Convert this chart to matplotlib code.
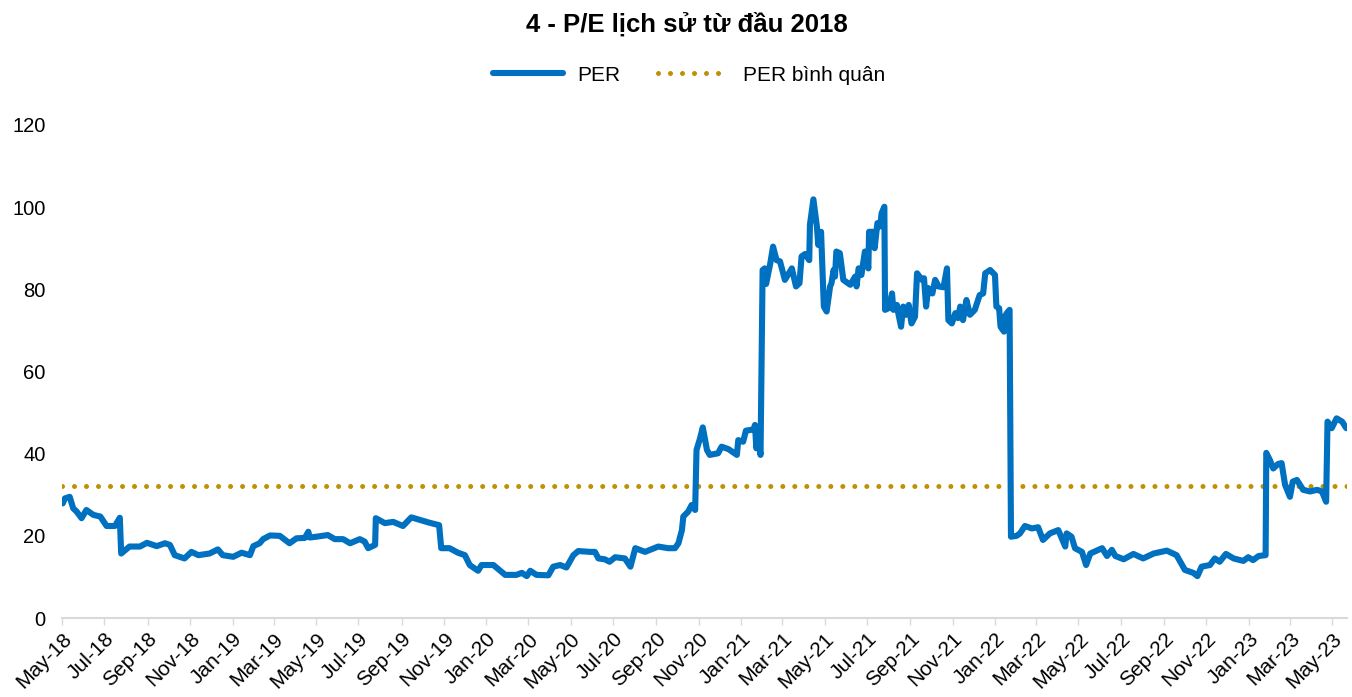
import matplotlib
matplotlib.use("Agg")
import matplotlib.pyplot as plt
import matplotlib.dates as mdates
import pandas as pd

plt.rcParams['font.family'] = ['Liberation Sans', 'DejaVu Sans']

# Dữ liệu P/E đọc từ biểu đồ
per_dates = [
    "2018-05-02", "2018-05-05", "2018-05-12", "2018-05-17", "2018-05-22", "2018-05-29",
    "2018-06-05", "2018-06-15", "2018-06-25", "2018-07-04", "2018-07-16", "2018-07-23",
    "2018-07-25", "2018-08-06", "2018-08-21", "2018-08-31", "2018-09-14", "2018-09-26",
    "2018-10-03", "2018-10-10", "2018-10-24", "2018-11-03", "2018-11-13", "2018-11-29",
    "2018-12-11", "2018-12-18", "2019-01-02", "2019-01-14", "2019-01-26", "2019-01-31",
    "2019-02-09", "2019-02-14", "2019-02-24", "2019-03-10", "2019-03-24", "2019-04-03",
    "2019-04-15", "2019-04-20", "2019-04-22", "2019-05-02", "2019-05-18", "2019-05-28",
    "2019-06-09", "2019-06-19", "2019-07-03", "2019-07-10", "2019-07-15", "2019-07-25",
    "2019-07-26", "2019-08-08", "2019-08-20", "2019-09-03", "2019-09-15", "2019-09-27",
    "2019-10-11", "2019-10-25", "2019-10-28", "2019-11-09", "2019-11-21", "2019-12-01",
    "2019-12-08", "2019-12-20", "2019-12-25", "2020-01-11", "2020-01-28", "2020-02-13",
    "2020-02-21", "2020-02-28", "2020-03-04", "2020-03-13", "2020-03-30", "2020-04-06",
    "2020-04-16", "2020-04-25", "2020-05-05", "2020-05-12", "2020-05-29", "2020-06-05",
    "2020-06-10", "2020-06-19", "2020-06-26", "2020-07-04", "2020-07-18", "2020-07-26",
    "2020-08-02", "2020-08-16", "2020-09-04", "2020-09-18", "2020-09-28", "2020-10-03",
    "2020-10-08", "2020-10-10", "2020-10-17", "2020-10-22", "2020-10-27", "2020-10-29",
    "2020-11-03", "2020-11-07", "2020-11-13", "2020-11-17", "2020-11-29", "2020-12-04",
    "2020-12-14", "2020-12-26", "2020-12-28", "2021-01-04", "2021-01-08", "2021-01-19",
    "2021-01-21", "2021-01-23", "2021-01-25", "2021-01-29", "2021-02-01", "2021-02-04",
    "2021-02-06", "2021-02-12", "2021-02-16", "2021-02-21", "2021-02-26", "2021-03-05",
    "2021-03-15", "2021-03-21", "2021-03-26", "2021-03-29", "2021-04-03", "2021-04-09",
    "2021-04-10", "2021-04-15", "2021-04-20", "2021-04-22", "2021-04-26", "2021-04-30",
    "2021-05-04", "2021-05-09", "2021-05-11", "2021-05-14", "2021-05-16", "2021-05-18",
    "2021-05-23", "2021-05-28", "2021-06-07", "2021-06-14", "2021-06-16", "2021-06-19",
    "2021-06-23", "2021-06-28", "2021-07-03", "2021-07-04", "2021-07-10", "2021-07-12",
    "2021-07-16", "2021-07-20", "2021-07-22", "2021-07-26", "2021-07-27", "2021-08-01",
    "2021-08-06", "2021-08-08", "2021-08-13", "2021-08-15", "2021-08-19", "2021-08-22",
    "2021-08-26", "2021-08-30", "2021-09-03", "2021-09-08", "2021-09-11", "2021-09-18",
    "2021-09-21", "2021-09-24", "2021-09-27", "2021-10-03", "2021-10-07", "2021-10-12",
    "2021-10-19", "2021-10-24", "2021-10-26", "2021-10-31", "2021-11-05", "2021-11-09",
    "2021-11-12", "2021-11-16", "2021-11-21", "2021-11-26", "2021-12-03", "2021-12-10",
    "2021-12-15", "2021-12-18", "2021-12-25", "2022-01-01", "2022-01-03", "2022-01-07",
    "2022-01-09", "2022-01-14", "2022-01-15", "2022-01-18", "2022-01-22", "2022-01-24",
    "2022-02-01", "2022-02-06", "2022-02-13", "2022-02-23", "2022-03-04", "2022-03-11",
    "2022-03-21", "2022-04-02", "2022-04-12", "2022-04-14", "2022-04-21", "2022-04-26",
    "2022-05-06", "2022-05-12", "2022-05-18", "2022-06-04", "2022-06-11", "2022-06-18",
    "2022-06-23", "2022-07-05", "2022-07-19", "2022-08-02", "2022-08-17", "2022-09-05",
    "2022-09-19", "2022-10-01", "2022-10-13", "2022-10-19", "2022-10-25", "2022-11-06",
    "2022-11-13", "2022-11-20", "2022-11-29", "2022-12-10", "2022-12-24", "2022-12-31",
    "2023-01-07", "2023-01-15", "2023-01-25", "2023-01-26", "2023-01-31", "2023-02-05",
    "2023-02-12", "2023-02-17", "2023-02-22", "2023-03-01", "2023-03-05", "2023-03-11",
    "2023-03-20", "2023-03-30", "2023-04-09", "2023-04-16", "2023-04-22", "2023-04-24",
    "2023-04-30", "2023-05-07", "2023-05-15", "2023-05-21",
]
per_values = [
    27.9, 29.1, 29.5, 26.7, 25.9, 24.3,
    26.3, 25.1, 24.7, 22.4, 22.4, 24.4,
    15.7, 17.4, 17.4, 18.3, 17.5, 18.2,
    17.8, 15.3, 14.5, 16.1, 15.3, 15.7,
    16.7, 15.3, 14.9, 15.9, 15.3, 17.5,
    18.2, 19.2, 20.1, 20.0, 18.2, 19.4,
    19.5, 21.0, 19.6, 19.8, 20.2, 19.2,
    19.2, 18.2, 19.2, 18.6, 17.0, 17.8,
    24.3, 23.1, 23.4, 22.4, 24.5, 23.9,
    23.2, 22.6, 17.0, 17.0, 15.9, 15.3,
    12.9, 11.5, 12.9, 12.9, 10.5, 10.5,
    11.0, 10.2, 11.5, 10.5, 10.4, 12.5,
    12.9, 12.3, 15.3, 16.3, 16.1, 16.1,
    14.5, 14.3, 13.7, 14.8, 14.5, 12.5,
    17.0, 16.1, 17.4, 17.0, 17.0, 18.2,
    21.4, 24.7, 25.9, 27.5, 26.3, 40.9,
    43.7, 46.4, 40.9, 39.7, 40.1, 41.7,
    41.1, 39.7, 43.3, 42.9, 45.6, 45.9,
    47.0, 41.3, 44.5, 39.7, 84.7, 85.1,
    81.3, 86.3, 90.4, 87.1, 86.8, 82.3,
    85.1, 80.7, 81.5, 88.0, 88.6, 87.1,
    95.7, 101.9, 95.3, 90.8, 94.0, 75.8,
    74.6, 80.7, 81.5, 84.7, 83.1, 89.2,
    88.8, 82.3, 81.1, 83.1, 80.7, 85.1,
    83.5, 89.2, 85.1, 94.0, 94.0, 90.0,
    96.1, 95.3, 98.5, 100.1, 75.0, 75.4,
    79.0, 75.0, 76.2, 74.2, 70.9, 75.8,
    73.8, 76.2, 71.7, 73.3, 83.9, 82.3,
    82.7, 75.8, 80.3, 79.0, 82.3, 80.7,
    80.5, 85.1, 72.5, 71.7, 74.2, 73.0,
    75.8, 72.5, 77.4, 73.8, 75.0, 78.6,
    79.0, 83.9, 84.7, 83.5, 75.8, 75.4,
    70.9, 69.7, 73.3, 74.2, 75.0, 19.8,
    20.0, 20.6, 22.4, 21.8, 22.1, 19.0,
    20.6, 21.4, 17.4, 20.6, 19.8, 17.0,
    16.1, 12.9, 15.7, 17.0, 15.1, 16.6,
    15.1, 14.3, 15.6, 14.5, 15.7, 16.4,
    15.3, 11.7, 11.0, 10.2, 12.5, 12.9,
    14.5, 13.7, 15.6, 14.5, 13.9, 14.8,
    14.1, 15.1, 15.3, 40.2, 38.5, 36.4,
    37.5, 37.7, 32.4, 29.5, 33.2, 33.6,
    31.2, 30.8, 31.2, 30.8, 28.3, 47.8,
    46.2, 48.6, 47.8, 46.2,
]
per_avg = 32.2
title_text = "4 - P/E lịch sử từ đầu 2018"
y_ticks = [0, 20, 40, 60, 80, 100, 120]

dates = pd.to_datetime(per_dates)
x_start = pd.Timestamp("2018-05-01")
x_end = pd.Timestamp("2023-05-22")

fig = plt.figure(figsize=(13.52, 6.97), dpi=100)
ax = fig.add_axes([0.0459, 0.1133, 0.9504, 0.7074])

blue = "#0070C0"
gold = "#BF9000"

ax.plot(dates, per_values, color=blue, lw=4.4, solid_joinstyle="round",
        solid_capstyle="round", label="PER", zorder=3)
ax.plot([x_start, x_end], [per_avg, per_avg], color=gold, lw=3.6,
        linestyle=(0, (0.001, 2.4)), dash_capstyle="round",
        label="PER bình quân", zorder=2)

ax.set_xlim(x_start, x_end)
ax.set_ylim(0, 120)
ax.set_yticks(y_ticks)
ax.tick_params(axis="y", length=0, labelsize=14.5, pad=12)

ax.xaxis.set_major_locator(mdates.MonthLocator(bymonth=[1, 3, 5, 7, 9, 11]))
ax.xaxis.set_major_formatter(mdates.DateFormatter("%b-%y"))
ax.tick_params(axis="x", length=5, width=1, color="#D9D9D9", labelsize=15, pad=3)
for lbl in ax.get_xticklabels():
    lbl.set_rotation(45)
    lbl.set_ha("right")
    lbl.set_va("top")
    lbl.set_rotation_mode("anchor")

for s in ["top", "right", "left"]:
    ax.spines[s].set_visible(False)
ax.spines["bottom"].set_color("#D9D9D9")
ax.spines["bottom"].set_linewidth(1.5)

fig.suptitle(title_text, fontsize=18.5, fontweight="bold", x=0.508, y=0.983)
fig.legend(loc="center", bbox_to_anchor=(0.5096, 0.892), ncol=2, frameon=False,
           fontsize=15, handlelength=3.35, columnspacing=1.8, handletextpad=0.72)

fig.savefig("out.png", dpi=100)
